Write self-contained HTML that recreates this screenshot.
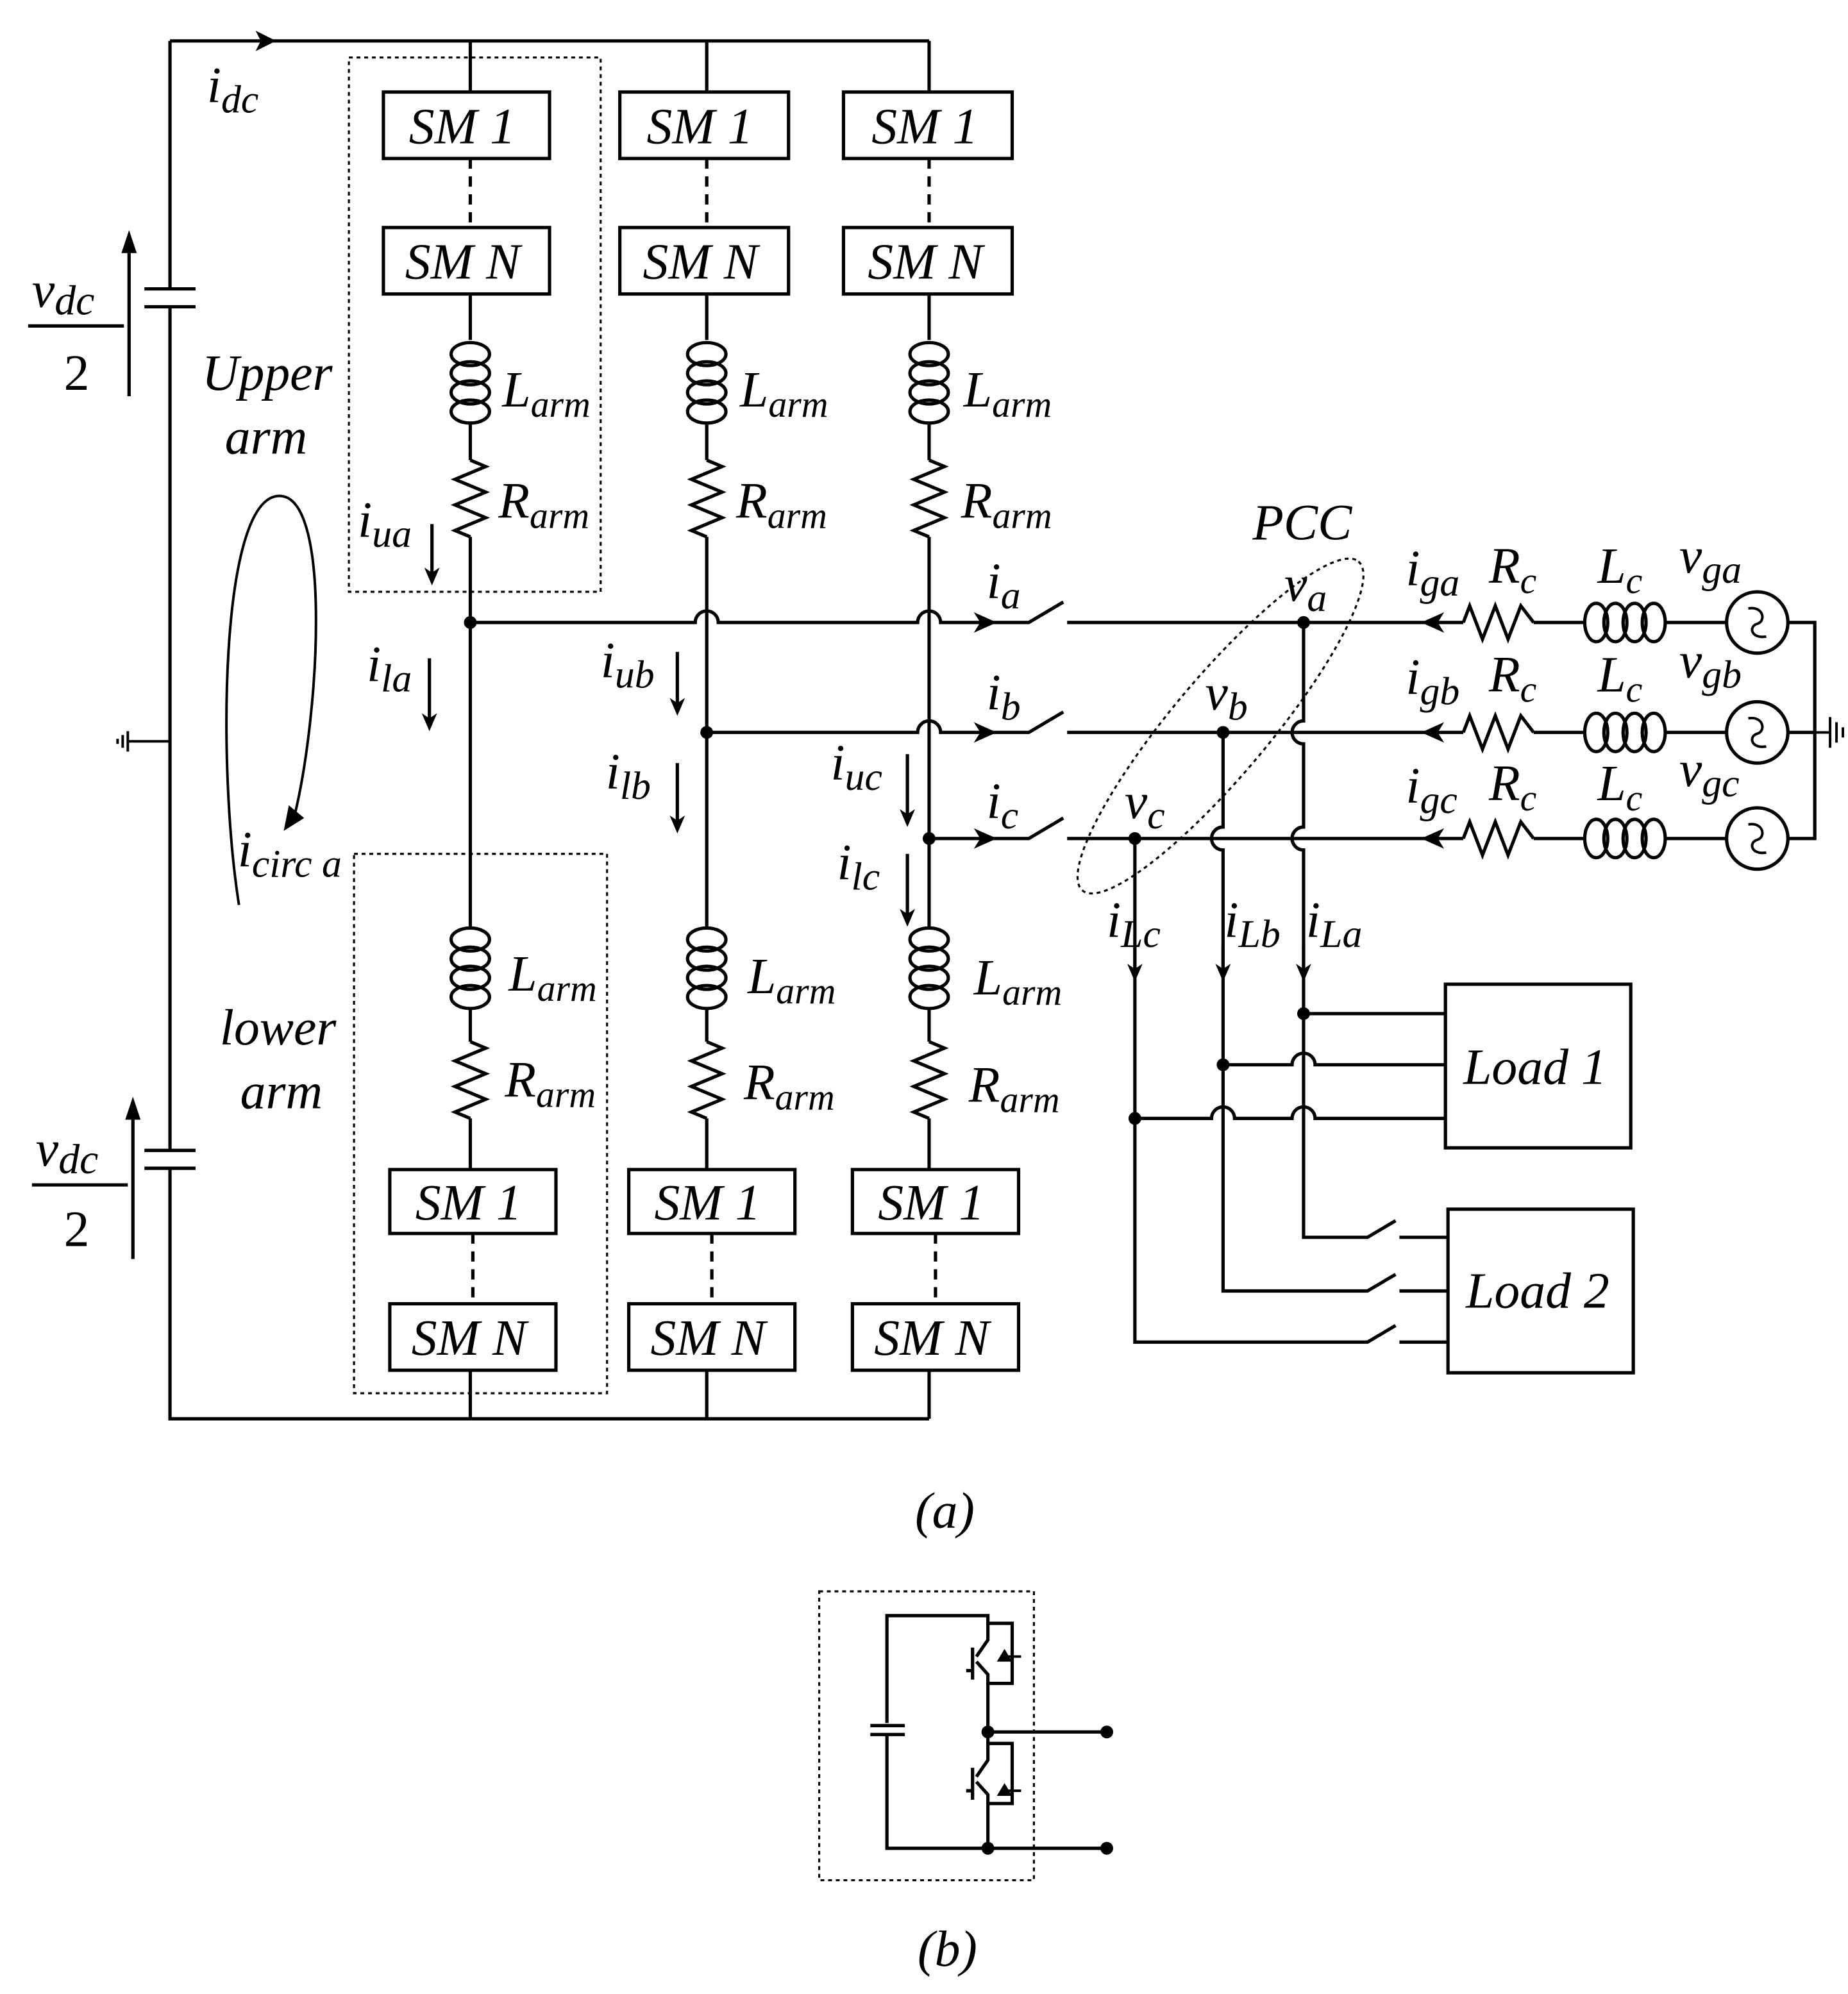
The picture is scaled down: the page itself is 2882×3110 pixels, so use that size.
<!DOCTYPE html>
<html><head><meta charset="utf-8"><style>
html,body{margin:0;padding:0;background:#fff}
svg{display:block}
text{font-family:"Liberation Serif",serif;font-style:italic;fill:#000}
text.up{font-style:normal}
</style></head><body>
<svg width="2882" height="3110" viewBox="0 0 1446 1560" preserveAspectRatio="none" xmlns="http://www.w3.org/2000/svg">
<defs>
<g id="indV" fill="none" stroke="#000" stroke-width="2.6">
<ellipse cx="0" cy="9" rx="15" ry="9"/><ellipse cx="0" cy="24" rx="15" ry="9"/><ellipse cx="0" cy="39" rx="15" ry="9"/><ellipse cx="0" cy="54" rx="15" ry="9"/>
</g>
<polyline id="resV" fill="none" stroke="#000" stroke-width="2.6" points="0,0 12,5 -12,15 12,25 -12,35 12,45 -12,55 0,60"/>
<g id="indH" fill="none" stroke="#000" stroke-width="2.6">
<ellipse cx="9" cy="0" rx="9" ry="15"/><ellipse cx="24" cy="0" rx="9" ry="15"/><ellipse cx="39" cy="0" rx="9" ry="15"/><ellipse cx="54" cy="0" rx="9" ry="15"/>
</g>
<polyline id="resH" fill="none" stroke="#000" stroke-width="2.6" points="0,0 5,-13 15,13 25,-13 35,13 45,-13 55,0"/>
<path id="arrD" d="M-6,-14 L0,0 L6,-14 L0,-10 Z" fill="#000"/>
</defs>

<g fill="none" stroke="#000" stroke-width="2.6">
<path d="M133,32 H727 M133,32 V226 M133,240 V900 M133,914 V1110 H727"/>
<path d="M113,226 H153 M113,240 H153 M113,900 H153 M113,914 H153"/>
<path d="M133,580 H100 M100,572 V588 M96,575 V585 M92,578 V582" stroke-width="2"/>
<path d="M101,310 V190 M104,985 V870"/>
<path d="M22,255 H97 M25,927 H100"/>
<path d="M368,32 V72 M553,32 V72 M727,32 V72"/>
<path d="M368,124 V178 M553,124 V178 M727,124 V178" stroke-dasharray="8,6"/>
<path d="M368,230 V266 M368,330 V360 M368,420 V725 M368,790 V815 M368,875 V915 M368,1072 V1110"/>
<path d="M553,230 V266 M553,330 V360 M553,420 V725 M553,790 V815 M553,875 V915 M553,1072 V1110"/>
<path d="M727,230 V266 M727,330 V360 M727,420 V725 M727,790 V815 M727,875 V915 M727,1072 V1110"/>
<path d="M370,965 V1020 M557,965 V1020 M732,965 V1020" stroke-dasharray="8,6"/>
<rect x="300" y="72" width="130" height="52"/><rect x="485" y="72" width="132" height="52"/><rect x="660" y="72" width="132" height="52"/>
<rect x="300" y="178" width="130" height="52"/><rect x="485" y="178" width="132" height="52"/><rect x="660" y="178" width="132" height="52"/>
<rect x="305" y="915" width="130" height="50"/><rect x="492" y="915" width="130" height="50"/><rect x="667" y="915" width="130" height="50"/>
<rect x="305" y="1020" width="130" height="52"/><rect x="492" y="1020" width="130" height="52"/><rect x="667" y="1020" width="130" height="52"/>
<rect x="273" y="45" width="197" height="418" stroke-width="1.6" stroke-dasharray="3,3"/>
<rect x="277" y="668" width="198" height="422" stroke-width="1.6" stroke-dasharray="3,3"/>
<path d="M368,487 H544 A9,9 0 0,1 562,487 H718 A9,9 0 0,1 736,487 H805 L832,471 M835,487 H1145 M1200,487 H1240 M1303,487 H1351 M1399,487 H1420 V656 H1399"/>
<path d="M553,573 H718 A9,9 0 0,1 736,573 H805 L832,557 M835,573 H1145 M1200,573 H1240 M1303,573 H1351 M1399,573 H1420"/>
<path d="M727,656 H805 L832,640 M835,656 H1145 M1200,656 H1240 M1303,656 H1351"/>
<path d="M1420,573 H1432 M1432,561 V585 M1437,565 V581 M1442,569 V577" stroke-width="2"/>
<path d="M1020,487 V564 A9,9 0 0,0 1020,582 V647 A9,9 0 0,0 1020,665 V968 H1070 L1092,955 M1095,968 H1133"/>
<path d="M957,573 V647 A9,9 0 0,0 957,665 V1010 H1070 L1092,997 M1095,1010 H1133"/>
<path d="M888,656 V1050 H1070 L1092,1037 M1095,1050 H1133"/>
<path d="M1020,793 H1131 M957,833 H1011 A9,9 0 0,1 1029,833 H1131 M888,875 H948 A9,9 0 0,1 966,875 H1011 A9,9 0 0,1 1029,875 H1131"/>
<rect x="1131" y="770" width="145" height="128"/>
<rect x="1133" y="946" width="145" height="128"/>
<circle cx="1375" cy="487" r="24"/><circle cx="1375" cy="573" r="24"/><circle cx="1375" cy="656" r="24"/>
<path d="M1368,476 C1380,474 1382,486 1375,488 C1368,490 1370,500 1382,498 M1368,562 C1380,560 1382,572 1375,574 C1368,576 1370,586 1382,584 M1368,645 C1380,643 1382,655 1375,657 C1368,659 1370,669 1382,667" stroke-width="2"/>
<ellipse cx="955" cy="568" rx="168" ry="38" transform="rotate(-50 955 568)" stroke-width="1.6" stroke-dasharray="3,3"/>
<path d="M338,410 V450 M336,515 V565 M530,510 V553 M530,597 V645 M710,590 V640 M710,668 V718 M888,740 V760 M957,740 V760 M1020,740 V760"/>
<path d="M187,708 C170,600 172,390 218,388 C260,386 250,560 230,640" stroke-width="2"/>
<rect x="641" y="1245" width="168" height="226" stroke-width="1.6" stroke-dasharray="3,3"/>
<path d="M694,1348 V1264 H773 V1283 L764,1296 M773,1283 V1270 H792 V1317 H773 V1310 L764,1300 M761,1289 V1314 M756,1307 H762"/>
<path d="M773,1317 V1377 L764,1390 M773,1377 V1364 H792 V1411 H773 V1404 L764,1394 M761,1383 V1408 M756,1401 H762 M773,1411 V1446"/>
<path d="M694,1358 V1446 H866 M773,1355 H866"/>
<path d="M681,1350 H708 M681,1357 H708"/>
<path d="M786,1296 H799 M786,1401 H799" stroke-width="2"/>
</g>
<g fill="#000">
<path d="M200,24 L216,32 L200,40 L204,32 Z"/>
<path d="M101,180 L95,198 L107,198 Z"/><path d="M104,858 L98,876 L110,876 Z"/>
<path d="M762,479 L780,487 L762,495 L767,487 Z"/><path d="M762,565 L780,573 L762,581 L767,573 Z"/><path d="M762,648 L780,656 L762,664 L767,656 Z"/>
<path d="M1130,479 L1112,487 L1130,495 L1125,487 Z"/><path d="M1130,565 L1112,573 L1130,581 L1125,573 Z"/><path d="M1130,648 L1112,656 L1130,664 L1125,656 Z"/>
<use href="#arrD" x="338" y="458"/><use href="#arrD" x="336" y="572"/><use href="#arrD" x="530" y="560"/><use href="#arrD" x="530" y="652"/><use href="#arrD" x="710" y="647"/><use href="#arrD" x="710" y="725"/>
<use href="#arrD" x="888" y="768"/><use href="#arrD" x="957" y="768"/><use href="#arrD" x="1020" y="768"/>
<path d="M222,650 L226,630 L238,640 Z"/>
<path d="M786,1290 L792,1300 L780,1300 Z M786,1395 L792,1405 L780,1405 Z"/>
<circle cx="368" cy="487" r="5"/><circle cx="553" cy="573" r="5"/><circle cx="727" cy="656" r="5"/>
<circle cx="1020" cy="487" r="5"/><circle cx="957" cy="573" r="5"/><circle cx="888" cy="656" r="5"/>
<circle cx="1020" cy="793" r="5"/><circle cx="957" cy="833" r="5"/><circle cx="888" cy="875" r="5"/>
<circle cx="773" cy="1355" r="5"/><circle cx="773" cy="1446" r="5"/><circle cx="866" cy="1355" r="5"/><circle cx="866" cy="1446" r="5"/>
</g>
<use href="#indV" x="368" y="268"/><use href="#indV" x="553" y="268"/><use href="#indV" x="727" y="268"/>
<use href="#resV" x="368" y="360"/><use href="#resV" x="553" y="360"/><use href="#resV" x="727" y="360"/>
<use href="#indV" x="368" y="726"/><use href="#indV" x="553" y="726"/><use href="#indV" x="727" y="726"/>
<use href="#resV" x="368" y="815"/><use href="#resV" x="553" y="815"/><use href="#resV" x="727" y="815"/>
<use href="#resH" x="1145" y="487"/><use href="#resH" x="1145" y="573"/><use href="#resH" x="1145" y="656"/>
<use href="#indH" x="1240" y="487"/><use href="#indH" x="1240" y="573"/><use href="#indH" x="1240" y="656"/>

<g font-size="40">
<text x="320" y="112">SM 1</text><text x="506" y="112">SM 1</text><text x="682" y="112">SM 1</text>
<text x="317" y="218">SM N</text><text x="503" y="218">SM N</text><text x="679" y="218">SM N</text>
<text x="325" y="954">SM 1</text><text x="512" y="954">SM 1</text><text x="687" y="954">SM 1</text>
<text x="322" y="1060">SM N</text><text x="509" y="1060">SM N</text><text x="684" y="1060">SM N</text>
<text x="1145" y="848">Load 1</text><text x="1147" y="1023">Load 2</text>
<text x="158" y="305">Upper</text><text x="176" y="355">arm</text>
<text x="172" y="817">lower</text><text x="188" y="867">arm</text>
<text x="980" y="422">PCC</text>
<text x="716" y="1195">(a)</text><text x="718" y="1538">(b)</text>
<text class="up" x="50" y="305">2</text><text class="up" x="50" y="975">2</text>
<text x="25" y="240">v<tspan font-size="33" dy="6">dc</tspan></text>
<text x="28" y="912">v<tspan font-size="33" dy="6">dc</tspan></text>
<text x="162" y="80">i<tspan font-size="31" dy="8">dc</tspan></text>
<text x="393" y="318">L<tspan font-size="29" dy="8">arm</tspan></text><text x="579" y="318">L<tspan font-size="29" dy="8">arm</tspan></text><text x="754" y="318">L<tspan font-size="29" dy="8">arm</tspan></text>
<text x="398" y="775">L<tspan font-size="29" dy="8">arm</tspan></text><text x="585" y="777">L<tspan font-size="29" dy="8">arm</tspan></text><text x="762" y="778">L<tspan font-size="29" dy="8">arm</tspan></text>
<text x="390" y="405">R<tspan font-size="29" dy="8">arm</tspan></text><text x="576" y="405">R<tspan font-size="29" dy="8">arm</tspan></text><text x="752" y="405">R<tspan font-size="29" dy="8">arm</tspan></text>
<text x="395" y="858">R<tspan font-size="29" dy="8">arm</tspan></text><text x="582" y="860">R<tspan font-size="29" dy="8">arm</tspan></text><text x="758" y="862">R<tspan font-size="29" dy="8">arm</tspan></text>
<text x="280" y="420">i<tspan font-size="31" dy="8">ua</tspan></text>
<text x="287" y="533">i<tspan font-size="31" dy="8">la</tspan></text>
<text x="470" y="530">i<tspan font-size="31" dy="8">ub</tspan></text>
<text x="474" y="617">i<tspan font-size="31" dy="8">lb</tspan></text>
<text x="650" y="610">i<tspan font-size="31" dy="8">uc</tspan></text>
<text x="655" y="688">i<tspan font-size="31" dy="8">lc</tspan></text>
<text x="186" y="678">i<tspan font-size="31" dy="8">circ a</tspan></text>
<text x="772" y="468">i<tspan font-size="31" dy="8">a</tspan></text>
<text x="772" y="555">i<tspan font-size="31" dy="8">b</tspan></text>
<text x="772" y="640">i<tspan font-size="31" dy="8">c</tspan></text>
<text x="1005" y="470">v<tspan font-size="31" dy="8">a</tspan></text>
<text x="943" y="555">v<tspan font-size="31" dy="8">b</tspan></text>
<text x="880" y="640">v<tspan font-size="31" dy="8">c</tspan></text>
<text x="1100" y="458">i<tspan font-size="31" dy="8">ga</tspan></text>
<text x="1100" y="543">i<tspan font-size="31" dy="8">gb</tspan></text>
<text x="1100" y="628">i<tspan font-size="31" dy="8">gc</tspan></text>
<text x="1165" y="456">R<tspan font-size="29" dy="8">c</tspan></text><text x="1165" y="541">R<tspan font-size="29" dy="8">c</tspan></text><text x="1165" y="626">R<tspan font-size="29" dy="8">c</tspan></text>
<text x="1250" y="456">L<tspan font-size="29" dy="8">c</tspan></text><text x="1250" y="541">L<tspan font-size="29" dy="8">c</tspan></text><text x="1250" y="626">L<tspan font-size="29" dy="8">c</tspan></text>
<text x="1314" y="448">v<tspan font-size="31" dy="8">ga</tspan></text>
<text x="1314" y="530">v<tspan font-size="31" dy="8">gb</tspan></text>
<text x="1314" y="615">v<tspan font-size="31" dy="8">gc</tspan></text>
<text x="866" y="733">i<tspan font-size="31" dy="8">Lc</tspan></text>
<text x="958" y="733">i<tspan font-size="31" dy="8">Lb</tspan></text>
<text x="1022" y="733">i<tspan font-size="31" dy="8">La</tspan></text>
</g>
</svg>
</body></html>
